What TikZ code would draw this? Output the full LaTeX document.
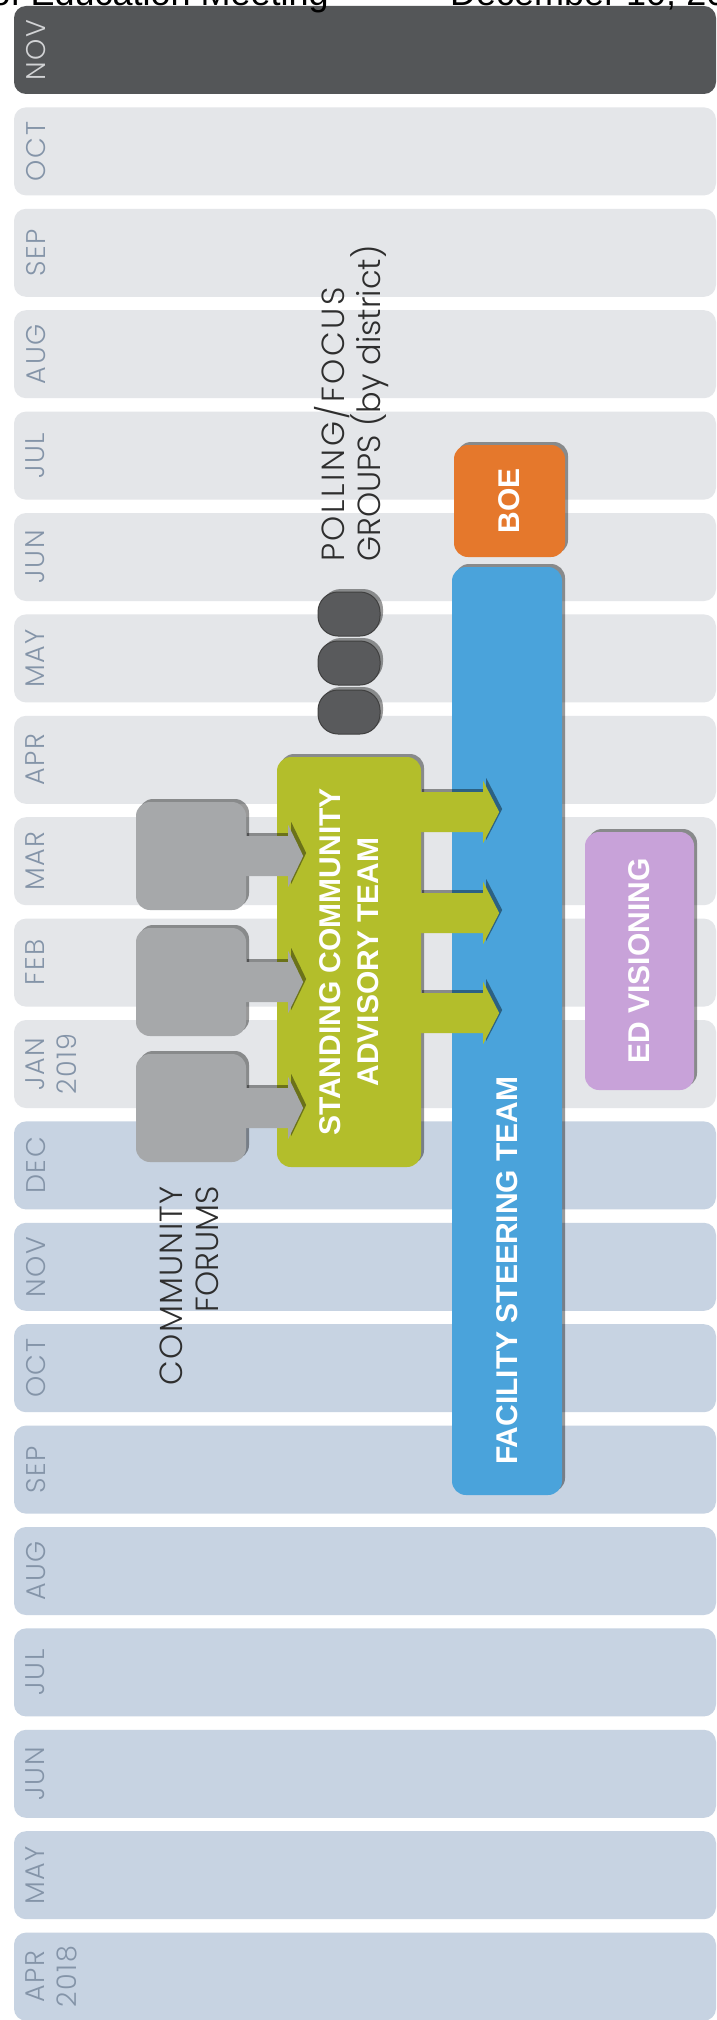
\documentclass[tikz,border=0pt]{standalone}
\usepackage{fontspec}
\setmainfont{Liberation Sans}
\IfFontExistsTF{Poppins Light}{\newfontfamily\thinf{Poppins Light}}{\newfontfamily\thinf{Poppins}}
\usetikzlibrary{shadows}
\definecolor{rowlight}{HTML}{E4E6E9}
\definecolor{rowblue}{HTML}{C7D3E2}
\definecolor{rowdark}{HTML}{545658}
\definecolor{lbl}{HTML}{8494A8}
\definecolor{lbldark}{HTML}{D2D3D5}
\definecolor{forumgray}{HTML}{A6A8AA}
\definecolor{sgreen}{HTML}{B3BE2B}
\definecolor{fblue}{HTML}{4AA3DB}
\definecolor{boeor}{HTML}{E5782C}
\definecolor{edpurple}{HTML}{C8A2D9}
\definecolor{ovalgray}{HTML}{595A5C}
\begin{document}
\begin{tikzpicture}[x=1pt,y=-1pt,
  rowbox/.style={rectangle, rounded corners=12pt, minimum width=702pt, minimum height=88pt, inner sep=0pt},
  mlabel/.style={rotate=90, font=\thinf\addfontfeature{LetterSpace=6}\fontsize{27}{32}\selectfont, align=center, inner sep=0pt},
  shad/.style={drop shadow={shadow xshift=3pt, shadow yshift=3pt, opacity=0.4, fill=black}},
  blk/.style={rectangle, rounded corners=14pt, inner sep=0pt, shad},
  boldtxt/.style={rotate=90, font=\bfseries\fontsize{30}{38}\selectfont, text=white, align=center, inner sep=0pt},
  thintxt/.style={rotate=90, font=\thinf\fontsize{32}{36}\selectfont, text=black!82, inner sep=0pt},
  hdr/.style={font=\fontsize{36}{40}\selectfont, inner sep=0pt, text=black}
]
\useasboundingbox (0,0) rectangle (717,2020);
\clip (0,0) rectangle (717,2020);
\fill[white] (0,0) rectangle (717,2020);

% month rows
\foreach \m [count=\i from 0] in {NOV,OCT,SEP,AUG,JUL,JUN,MAY,APR,MAR,FEB,{JAN\\2019},DEC,NOV,OCT,SEP,AUG,JUL,JUN,MAY,{APR\\2018}}{
  \pgfmathsetmacro\yc{50+101.4*\i}
  \ifnum\i=0 \def\rc{rowdark}\def\tc{lbldark}\else\ifnum\i<11 \def\rc{rowlight}\def\tc{lbl}\else\def\rc{rowblue}\def\tc{lbl}\fi\fi
  \node[rowbox, fill=\rc] (row\i) at (365,\yc) {};
  \node[mlabel, text=\tc, anchor=north] (lab\i) at ([xshift=12pt]row\i.west) {\m};
}

% header (cut off at top)
\node[hdr, anchor=base east] (hdr1) at (329,6) {Board of Education Meeting};
\node[hdr, anchor=base west] (hdr2) at (450,6) {December 10, 2018};

% facility steering team, BOE, ED visioning
\node[blk, fill=fblue, minimum width=110pt, minimum height=928pt] (fst) at (507,1031) {};
\node[boldtxt, anchor=west] (fsttxt) at (507,1465) {FACILITY STEERING TEAM};
\node[blk, fill=boeor, minimum width=111pt, minimum height=112pt] (boe) at (509.5,501) {};
\node[boldtxt] (boetxt) at (boe) {BOE};
\node[blk, fill=edpurple, minimum width=109pt, minimum height=258pt] (edv) at (639.5,961) {};
\node[boldtxt] (edvtxt) at (edv) {ED VISIONING};

% standing community advisory team
\node[blk, fill=sgreen, minimum width=144pt, minimum height=410pt] (sca) at (349,962) {};
\foreach \yy in {812,913,1013}{
  \fill[sgreen, shad] (sca.east |- 0,\yy) ++(-2,-20) -- ++(64,0) -- ++(0,-11) -- ++(16,31) -- ++(-16,31) -- ++(0,-11) -- ++(-64,0) -- cycle;
}
\node[boldtxt] (scatxt) at (sca) {STANDING COMMUNITY\\ADVISORY TEAM};

% community forums
\foreach \k/\yy in {1/856,2/982,3/1108}{
  \node[blk, fill=forumgray, minimum width=110pt, minimum height=108pt] (f\k) at (191,\yy) {};
  \fill[forumgray, shad] (f\k.east) ++(-2,-20) -- ++(44,0) -- ++(0,-11) -- ++(15,31) -- ++(-15,31) -- ++(0,-11) -- ++(-44,0) -- cycle;
}
\node[thintxt, align=right, anchor=east] (cf) at (189,1186) {{\addfontfeature{LetterSpace=4}COMMUNITY}\\FORUMS};

% polling / focus groups
\foreach \k/\yy in {1/614,2/663,3/712}{
  \node[rectangle, rounded corners=20pt, minimum width=62pt, minimum height=44pt, inner sep=0pt,
        fill=ovalgray, draw=black!75, line width=1pt, shad] (p\k) at (349,\yy) {};
}
\node[thintxt, align=left, anchor=west] (poll) at (352,562) {{\addfontfeature{LetterSpace=8}POLLING/FOCUS}\\GROUPS (by district)};
\end{tikzpicture}
\end{document}
